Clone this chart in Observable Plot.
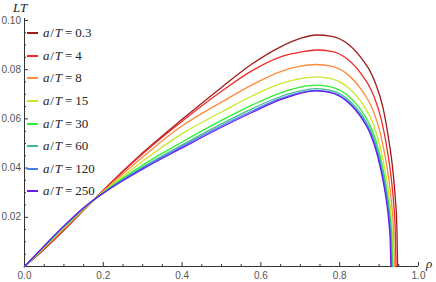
<!DOCTYPE html>
<html>
<head>
<meta charset="utf-8">
<script src="https://cdn.jsdelivr.net/npm/d3@7"></script>
<script src="https://cdn.jsdelivr.net/npm/@observablehq/plot@0.6"></script>
<style>
  html, body { margin: 0; padding: 0; background: #fff; }
  #wrap { position: relative; width: 436px; height: 282px; }
  #wrap svg { position: absolute; left: 0; top: 0; }
  .lab { position: absolute; font-family: "Liberation Serif", "Times New Roman", serif; font-style: italic; font-size: 13px; line-height: 13px; color: #222; white-space: nowrap; }
  #legend { position: absolute; left: 27px; top: 22px; font-family: "Liberation Serif", "Times New Roman", serif; font-size: 13px; color: #222; }
  .row { height: 22.6px; display: flex; align-items: center; white-space: nowrap; }
  .sw { display: inline-block; width: 11px; height: 2px; margin-right: 5px; }
  .it { font-style: italic; }
  .sl { margin: 0 0.8px; }
  .eq { margin: 0 3px; }
</style>
</head>
<body>
<div id="wrap"></div>
<script>
// ---- data ----
const aT = ["0.3", "4", "8", "15", "30", "60", "120", "250"];
const colors = ["#9E1B1B", "#F02A2A", "#FF8A3A", "#C8E82A", "#2EF02E", "#40BB8F", "#3F7FF0", "#6A1AEF"];

// rising part, shared rho grid up to the maximum
const rho = [0, 0.05, 0.1, 0.15, 0.2, 0.3, 0.4, 0.5, 0.58, 0.65, 0.7, 0.74];

const lt_0_3 = [0, 0.0070, 0.0147, 0.0228, 0.0310, 0.0462, 0.0598, 0.0728, 0.0826, 0.0893, 0.0927, 0.0941];
const lt_4   = [0, 0.0072, 0.0150, 0.0230, 0.0309, 0.0458, 0.0590, 0.0712, 0.0798, 0.0852, 0.0871, 0.0880];
const lt_8   = [0, 0.0075, 0.0153, 0.0232, 0.0306, 0.0445, 0.0572, 0.0668, 0.0740, 0.0792, 0.0814, 0.0821];
const lt_15  = [0, 0.0078, 0.0157, 0.0234, 0.0304, 0.0428, 0.0540, 0.0628, 0.0695, 0.0743, 0.0764, 0.0771];
const lt_30  = [0, 0.0080, 0.0160, 0.0236, 0.0301, 0.0412, 0.0506, 0.0594, 0.0658, 0.0706, 0.0729, 0.0737];
const lt_60  = [0, 0.0082, 0.0162, 0.0237, 0.0300, 0.0404, 0.0494, 0.0580, 0.0643, 0.0691, 0.0714, 0.0723];
const lt_120 = [0, 0.0083, 0.0164, 0.0238, 0.0299, 0.0400, 0.0488, 0.0572, 0.0634, 0.0683, 0.0707, 0.0716];
const lt_250 = [0, 0.0084, 0.0165, 0.0239, 0.0298, 0.0396, 0.0482, 0.0566, 0.0628, 0.0678, 0.0704, 0.0714];

// falling part, down to the axis
const dRho_0_3 = [0.78, 0.82, 0.86, 0.875, 0.89, 0.91, 0.925, 0.935, 0.941, 0.945, 0.947];
const dLT_0_3  = [0.0935, 0.0905, 0.0836, 0.0800, 0.0748, 0.0645, 0.0510, 0.0390, 0.0280, 0.0165, 0];
const dRho_4   = [0.7792, 0.8184, 0.8577, 0.8724, 0.8872, 0.9067, 0.9215, 0.9312, 0.9371, 0.9410, 0.943];
const dLT_4    = [0.0874, 0.0844, 0.0776, 0.0740, 0.0691, 0.0590, 0.0466, 0.0354, 0.0254, 0.0149, 0];
const dRho_8   = [0.7784, 0.8168, 0.8554, 0.8697, 0.8843, 0.9034, 0.9179, 0.9275, 0.9332, 0.937, 0.939];
const dLT_8    = [0.0814, 0.0785, 0.0718, 0.0683, 0.0636, 0.0540, 0.0424, 0.0320, 0.0229, 0.0133, 0];
const dRho_15  = [0.7778, 0.8157, 0.8537, 0.8678, 0.8821, 0.9009, 0.9152, 0.9246, 0.9303, 0.934, 0.936];
const dLT_15   = [0.0764, 0.0735, 0.0671, 0.0636, 0.0591, 0.0498, 0.0390, 0.0293, 0.0209, 0.0121, 0];
const dRho_30  = [0.7774, 0.8149, 0.8525, 0.8665, 0.8807, 0.8993, 0.9134, 0.9227, 0.9284, 0.9321, 0.934];
const dLT_30   = [0.0730, 0.0702, 0.0639, 0.0605, 0.0561, 0.0471, 0.0368, 0.0275, 0.0196, 0.0114, 0];
const dRho_60  = [0.7772, 0.8145, 0.8519, 0.8658, 0.8799, 0.8985, 0.9125, 0.9218, 0.9274, 0.9311, 0.933];
const dLT_60   = [0.0716, 0.0688, 0.0625, 0.0592, 0.0549, 0.0459, 0.0358, 0.0267, 0.0191, 0.0110, 0];
const dRho_120 = [0.7770, 0.8139, 0.8511, 0.8649, 0.8788, 0.8972, 0.9112, 0.9204, 0.9261, 0.9296, 0.9315];
const dLT_120  = [0.0709, 0.0681, 0.0618, 0.0585, 0.0542, 0.0453, 0.0353, 0.0263, 0.0188, 0.0108, 0];
const dRho_250 = [0.7767, 0.8133, 0.8502, 0.8639, 0.8778, 0.8960, 0.9099, 0.9190, 0.9245, 0.9281, 0.930];
const dLT_250  = [0.0707, 0.0678, 0.0615, 0.0582, 0.0539, 0.0450, 0.0350, 0.0261, 0.0186, 0.0107, 0];

const xMajor = [0, 0.2, 0.4, 0.6, 0.8, 1.0];
const xMinor = [0.05, 0.1, 0.15, 0.25, 0.3, 0.35, 0.45, 0.5, 0.55, 0.65, 0.7, 0.75, 0.85, 0.9, 0.95];
const yMajor = [0.02, 0.04, 0.06, 0.08, 0.10];
const yMinor = [0.005, 0.01, 0.015, 0.025, 0.03, 0.035, 0.045, 0.05, 0.055, 0.065, 0.07, 0.075, 0.085, 0.09, 0.095];

// ---- build table ----
const mains = [lt_0_3, lt_4, lt_8, lt_15, lt_30, lt_60, lt_120, lt_250];
const downR = [dRho_0_3, dRho_4, dRho_8, dRho_15, dRho_30, dRho_60, dRho_120, dRho_250];
const downL = [dLT_0_3, dLT_4, dLT_8, dLT_15, dLT_30, dLT_60, dLT_120, dLT_250];
const rows = [];
aT.forEach((s, i) => {
  rho.forEach((r, j) => rows.push({series: s, color: colors[i], rho: r, lt: mains[i][j]}));
  downR[i].forEach((r, j) => rows.push({series: s, color: colors[i], rho: r, lt: downL[i][j]}));
});

const axisFont = {fontSize: 10, fontFamily: "Liberation Sans, Arial, sans-serif", fill: "#555", stroke: "#333"};

const chart = Plot.plot({
  width: 436,
  height: 282,
  marginLeft: 24,
  marginRight: 18,
  marginTop: 18,
  marginBottom: 16,
  x: {domain: [0, 1]},
  y: {domain: [0, 0.1008]},
  marks: [
    Plot.axisX(xMajor, {anchor: "bottom", tickSize: -4, tickPadding: 9, tickFormat: d3.format(".1f"), label: null, ...axisFont}),
    Plot.axisX(xMinor, {anchor: "bottom", tickSize: -2, tickFormat: () => "", label: null, stroke: "#333"}),
    Plot.axisY(yMajor, {anchor: "left", tickSize: -4, tickPadding: 7.5, tickFormat: d3.format(".2f"), label: null, ...axisFont}),
    Plot.axisY(yMinor, {anchor: "left", tickSize: -2, tickFormat: () => "", label: null, stroke: "#333"}),
    Plot.ruleY([0], {stroke: "#333", strokeWidth: 1}),
    Plot.ruleX([0], {stroke: "#333", strokeWidth: 1}),
    Plot.line(rows, {x: "rho", y: "lt", z: "series", stroke: "color", strokeWidth: 1.3, curve: "monotone-x"})
  ]
});

const wrap = document.getElementById("wrap");
wrap.appendChild(chart);

// axis labels
const lt = document.createElement("div");
lt.className = "lab";
lt.style.left = "13px"; lt.style.top = "1px";
lt.textContent = "LT";
wrap.appendChild(lt);
const rl = document.createElement("div");
rl.className = "lab";
rl.style.left = "426px"; rl.style.top = "257px";
rl.textContent = "ρ";
wrap.appendChild(rl);

// legend
const leg = document.createElement("div");
leg.id = "legend";
aT.forEach((s, i) => {
  const row = document.createElement("div");
  row.className = "row";
  row.innerHTML = `<span class="sw" style="background:${colors[i]}"></span><span class="it">a</span><span class="sl">/</span><span class="it">T</span><span class="eq">=</span>${s}`;
  leg.appendChild(row);
});
wrap.appendChild(leg);
</script>
</body>
</html>
